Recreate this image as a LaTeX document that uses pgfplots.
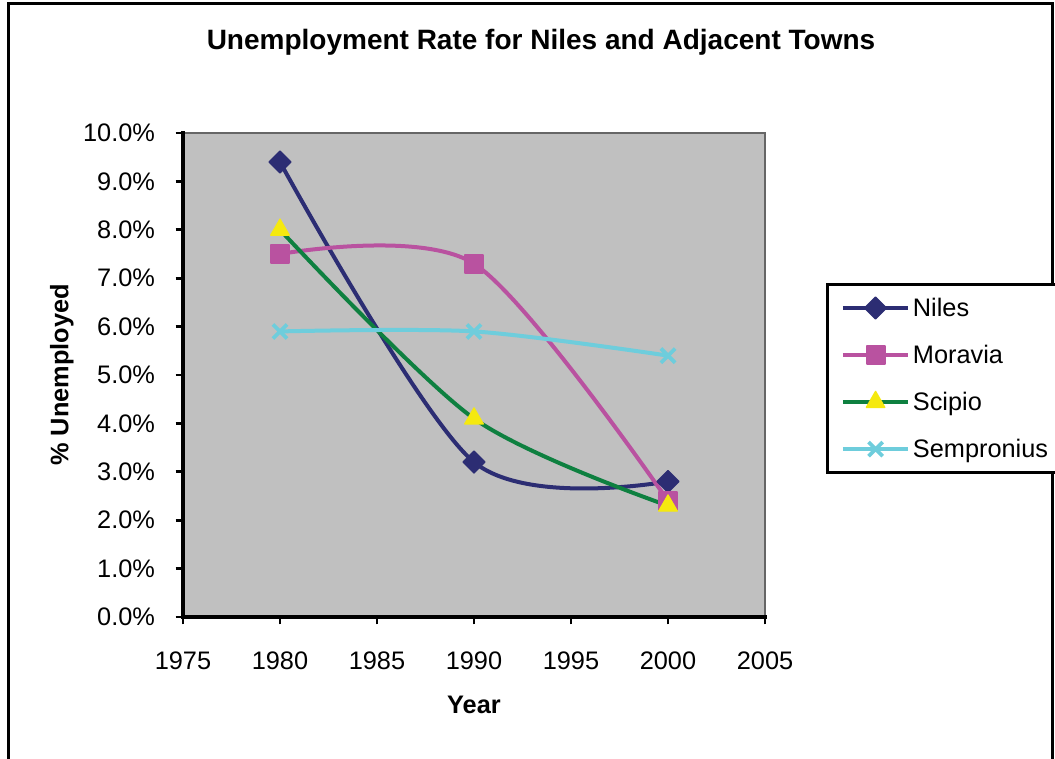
\documentclass[border=0pt]{standalone}
\usepackage{pgfplots}
\pgfplotsset{compat=1.18}
\usepackage{fontspec}
\setmainfont{Liberation Sans}
\definecolor{niles}{RGB}{44,45,115}
\definecolor{moravia}{RGB}{185,82,160}
\definecolor{scipio}{RGB}{14,128,64}
\definecolor{scipiom}{RGB}{245,233,15}
\definecolor{semp}{RGB}{110,205,220}
\definecolor{plotbg}{RGB}{192,192,192}
\begin{document}
\begin{tikzpicture}
\path[use as bounding box] (0pt,0pt) rectangle (791.25pt,569.25pt);
\draw[line width=2pt] (6.5pt,-2pt) -- (6.5pt,566.5pt) -- (789.5pt,566.5pt) -- (789.5pt,-2pt);
\node[font=\fontsize{21}{25}\selectfont\bfseries] at (405.75pt,537.75pt) {Unemployment Rate for Niles and Adjacent Towns};
\begin{axis}[
  name=ax,
  at={(137.25pt,106.5pt)}, anchor=south west,
  scale only axis, width=436.5pt, height=363pt,
  xmin=1975, xmax=2005, ymin=0, ymax=10,
  xtick={1975,1980,...,2005}, ytick={0,1,...,10},
  axis background/.style={fill=plotbg},
  axis x line*=bottom, axis y line*=left,
  x axis line style={line width=2.2pt, black},
  y axis line style={line width=2.2pt, black},
  every tick/.style={line width=2.2pt, black},
  every major tick/.style={line width=2.2pt, black},
  tick align=outside, major tick length=5.5pt,
  xticklabel style={/pgf/number format/1000 sep={}, /pgf/number format/assume math mode=true, font=\fontsize{19}{22}\selectfont, yshift=-17pt},
  yticklabel style={/pgf/number format/assume math mode=true, font=\fontsize{19}{22}\selectfont, xshift=-12pt},
  yticklabel={\pgfmathprintnumber[fixed,fixed zerofill,precision=1,assume math mode=true]{\tick}\%},
  xlabel={Year}, ylabel={\% Unemployed},
  xlabel style={font=\fontsize{19}{22}\selectfont\bfseries, at={(axis description cs:0.5,-0.182)}, anchor=center},
  ylabel style={font=\fontsize{19}{22}\selectfont\bfseries, at={(axis description cs:-0.208,0.5)}, anchor=center},
  legend style={at={(1.105,0.69)}, anchor=north west, draw=black, line width=2.2pt, font=\fontsize{19}{22}\selectfont, row sep=16pt, inner xsep=10pt, inner ysep=8pt, fill=white, cells={anchor=west}},
  legend image code/.code={\draw[mark repeat=2,mark phase=2,#1] plot coordinates {(0pt,0pt) (24.5pt,0pt) (49pt,0pt)};},
  every axis plot/.append style={line width=3pt, smooth},
  clip=false,
]
\addplot[color=niles, mark=square*, mark size=5.8pt, mark options={rotate=45, line width=1pt, line join=round}] coordinates {(1980,9.4) (1990,3.2) (2000,2.8)};
\addlegendentry{Niles}
\addplot[color=moravia, mark=square*, mark size=6.8pt, mark options={line width=1.5pt, line join=round}] coordinates {(1980,7.5) (1990,7.3) (2000,2.4)};
\addlegendentry{Moravia}
\addplot[color=scipio, mark=triangle*, mark size=8pt, mark options={draw=scipiom, fill=scipiom, line width=1pt, line join=round}] coordinates {(1980,8.0) (1990,4.1) (2000,2.3)};
\addlegendentry{Scipio}
\addplot[color=semp, mark=x, mark size=7.5pt, mark options={line width=2.8pt}] coordinates {(1980,5.9) (1990,5.9) (2000,5.4)};
\addlegendentry{Sempronius}
\end{axis}
\draw[line width=1.6pt, gray!80!black] (ax.north west) -- (ax.north east) -- (ax.south east);
\draw[line width=2.4pt, black, line cap=rect] (ax.north west) -- (ax.south west) -- (ax.south east);
\end{tikzpicture}
\end{document}
